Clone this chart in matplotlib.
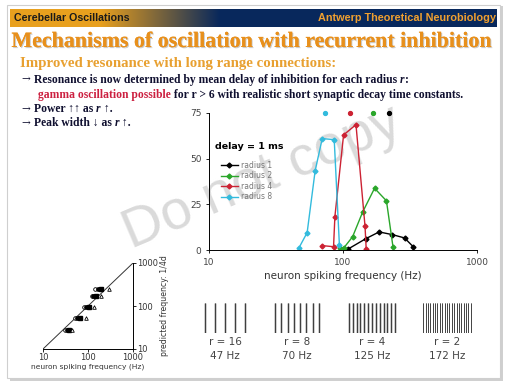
import numpy as np
import matplotlib
matplotlib.use('Agg')
import matplotlib.pyplot as plt
from matplotlib import patches
from matplotlib import patheffects as pe

W, H = 512, 384

# main chart: power vs neuron spiking frequency, delay = 1 ms
r1_f = [109, 148, 186, 234, 288, 334]
r1_p = [0.5, 6.2, 9.9, 8.4, 6.6, 1.8]
r2_f = [95, 101, 118, 140, 172, 211, 236]
r2_p = [1.3, 1.0, 7.3, 20.7, 33.8, 26.9, 1.8]
r4_f = [70, 85, 87, 101, 125, 146, 149]
r4_p = [2.4, 1.8, 18.3, 63.0, 68.6, 13.0, 0.5]
r8_f = [47, 54, 62, 70, 86, 94]
r8_p = [1.3, 9.5, 43.5, 61.0, 60.4, 2.7]
peak_f = [219, 168, 112, 73.6]   # predicted peaks, radius 1, 2, 4, 8

# small chart: predicted frequency 1/4d vs observed frequency
pred = [247, 167, 97, 54, 28]
obs_circle = [145, 120, 80, 52, 31]
obs_dot = [165, 132, 90, 58, 34]
obs_square = [190, 150, 105, 66, 38]
obs_tri = [290, 195, 135, 88, 44]

# rasters
raster_r = [16, 8, 4, 2]
raster_hz = [47, 70, 125, 172]
raster_cols = [5, 8, 13, 21]
raster_rows = 30

fig = plt.figure(figsize=(W / 100, H / 100), dpi=100)
fig.patch.set_facecolor('white')


def fx(x):
    return x / W


def fy(y):
    return 1 - y / H


# slide frame with shadow
fig.patches.append(patches.Rectangle((fx(10), fy(381)), fx(493), 375 / H,
                                     transform=fig.transFigure, facecolor='#d0d0d0',
                                     edgecolor='none', zorder=-3))
fig.patches.append(patches.Rectangle((fx(7), fy(378)), fx(493), 373 / H,
                                     transform=fig.transFigure, facecolor='white',
                                     edgecolor='#cfcfcf', lw=0.8, zorder=-2))

# header bar gradient
hax = fig.add_axes([fx(10), fy(27), fx(487), 18 / H])
xs = np.linspace(0, 487, 487)
orange = np.array([232, 160, 30]) / 255
navy = np.array([8, 40, 92]) / 255
t = np.clip((xs - 90) / 120, 0, 1)[:, None]
grad = orange * (1 - t) + navy * t
hax.imshow(grad[None, :, :], aspect='auto', extent=[0, 1, 0, 1])
hax.axis('off')
fig.text(fx(14), fy(18), 'Cerebellar Oscillations', fontsize=7.7, fontweight='bold',
         color='#1a1a1a', va='center', family='Liberation Sans')
fig.text(fx(496), fy(18), 'Antwerp Theoretical Neurobiology', fontsize=7.8,
         fontweight='bold', color='#f0a030', va='center', ha='right', family='Liberation Sans')

shadow = [pe.withSimplePatchShadow(offset=(0.8, -0.8), shadow_rgbFace='#999999', alpha=0.5),
          pe.Normal()]
fig.text(fx(253), fy(42), 'Mechanisms of oscillation with recurrent inhibition',
         fontsize=15.8, fontweight='bold', color='#e8901c', ha='center', va='center',
         family='Liberation Serif', path_effects=shadow)
fig.text(fx(20), fy(63), 'Improved resonance with long range connections:',
         fontsize=10.7, fontweight='bold', color='#e8a030', va='center',
         family='Liberation Serif')

renderer = fig.canvas.get_renderer()
serif = ['Liberation Serif', 'DejaVu Serif']


def segments(x, y, parts, size=8.4):
    for s, color, style in parts:
        fam = ['DejaVu Serif'] if s == '\u2192 ' else serif
        sz = size * 0.9 if s == '\u2192 ' else size
        tx = fig.text(fx(x), fy(y), s, fontsize=sz, color=color, style=style,
                      fontweight='normal' if s == '\u2192 ' else 'bold',
                      va='center', family=fam)
        bb = tx.get_window_extent(renderer=renderer)
        x += bb.width


dark = '#101030'
segments(22, 80, [('\u2192 ', dark, 'normal'),
                  ('Resonance is now determined by mean delay of inhibition for each radius ', dark, 'normal'),
                  ('r', dark, 'italic'), (':', dark, 'normal')])
segments(38, 95, [('gamma oscillation possible', '#cc2040', 'normal'),
                  (' for r > 6 with realistic short synaptic decay time constants.', dark, 'normal')])
segments(22, 109, [('\u2192 ', dark, 'normal'), ('Power \u2191\u2191 as ', dark, 'normal'),
                   ('r', dark, 'italic'), (' \u2191.', dark, 'normal')])
segments(22, 123, [('\u2192 ', dark, 'normal'), ('Peak width \u2193 as ', dark, 'normal'),
                   ('r', dark, 'italic'), (' \u2191.', dark, 'normal')])

# watermark, drawn beneath the charts
fig.text(fx(262), fy(178), 'Do not copy', fontsize=40, color='#dadada',
         rotation=23, ha='center', va='center', family='Liberation Sans', zorder=-1)

# main chart
ax = fig.add_axes([fx(209), fy(250), (477 - 209) / W, (250 - 113) / H])
ax.patch.set_alpha(0)
cols = ['#000000', '#2aa62a', '#cc2233', '#33bbdd']
series = [(r1_f, r1_p), (r2_f, r2_p), (r4_f, r4_p), (r8_f, r8_p)]
labels = ['radius 1', 'radius 2', 'radius 4', 'radius 8']
for (f, p), c, lab in zip(series, cols, labels):
    ax.plot(f, p, color=c, lw=1.0, marker='D', ms=2.5, label=lab)
for f, c in zip(peak_f, cols):
    ax.plot([f], [75], 'o', color=c, ms=2.8, clip_on=False)
ax.set_xscale('log')
ax.set_xlim(10, 1000)
ax.set_ylim(0, 75)
ax.set_yticks([0, 25, 50, 75])
ax.set_xticks([10, 100, 1000])
ax.set_xticklabels(['10', '100', '1000'])
ax.minorticks_off()
ax.spines[['top', 'right']].set_visible(False)
ax.tick_params(labelsize=6.5, labelcolor='#444444', length=2, width=0.6)
ax.set_xlabel('neuron spiking frequency (Hz)', fontsize=7.5, color='#333333', labelpad=3)
for s in ['left', 'bottom']:
    ax.spines[s].set_linewidth(0.7)
ax.text(0.022, 0.752, 'delay = 1 ms', transform=ax.transAxes, fontsize=6.8,
        fontweight='bold', va='center')
leg = ax.legend(frameon=False, loc='upper left', bbox_to_anchor=(0.03, 0.68),
                fontsize=5.5, handlelength=2.2, labelspacing=0.2, borderpad=0,
                handletextpad=0.4, labelcolor='#777777')

# small chart
sx = fig.add_axes([fx(43), fy(349), (133 - 43) / W, (349 - 263) / H])
sx.patch.set_alpha(0)
sx.set_xscale('log')
sx.set_yscale('log')
sx.set_xlim(10, 1000)
sx.set_ylim(10, 1000)
sx.plot([10, 1000], [10, 1000], color='#333333', lw=0.7)
sx.plot(obs_circle, pred, 'o', mfc='white', mec='black', ms=2.6, mew=0.6)
sx.plot(obs_dot, pred, 'o', color='black', ms=2.4)
sx.plot(obs_square, pred, 's', color='black', ms=2.2)
sx.plot(obs_tri, pred, '^', mfc='white', mec='black', ms=2.6, mew=0.6)
sx.spines[['top', 'left']].set_visible(False)
sx.yaxis.tick_right()
sx.yaxis.set_label_position('right')
sx.set_xticks([10, 100, 1000])
sx.set_xticklabels(['10', '100', '1000'])
sx.set_yticks([10, 100, 1000])
sx.set_yticklabels(['10', '100', '1000'])
sx.minorticks_off()
sx.tick_params(labelsize=6.0, labelcolor='#333333', length=2, width=0.6, pad=1)
sx.set_xlabel('neuron spiking frequency (Hz)', fontsize=5.4, color='#333333', labelpad=1)
sx.set_ylabel('predicted frequency: 1/4d', fontsize=5.6, color='#333333', labelpad=1)
for s in ['right', 'bottom']:
    sx.spines[s].set_linewidth(0.7)

# rasters
lefts = [200, 272, 347, 422]
for left, r, hz, nc in zip(lefts, raster_r, raster_hz, raster_cols):
    rx = fig.add_axes([fx(left), fy(333), 50 / W, 30 / H])
    times = [np.arange(nc) + 0.5] * raster_rows
    rx.eventplot(times, colors='black', linelengths=0.8, linewidths=min(1.0, 14 / nc))
    rx.set_xlim(0, nc)
    rx.set_ylim(-0.5, raster_rows - 0.5)
    rx.axis('off')
    fig.text(fx(left + 25), fy(342), f'r = {r}', fontsize=7.5, color='#444444',
             ha='center', va='center')
    fig.text(fx(left + 25), fy(356), f'{hz} Hz', fontsize=7.5, color='#444444',
             ha='center', va='center')

fig.savefig('out.png', dpi=100)
